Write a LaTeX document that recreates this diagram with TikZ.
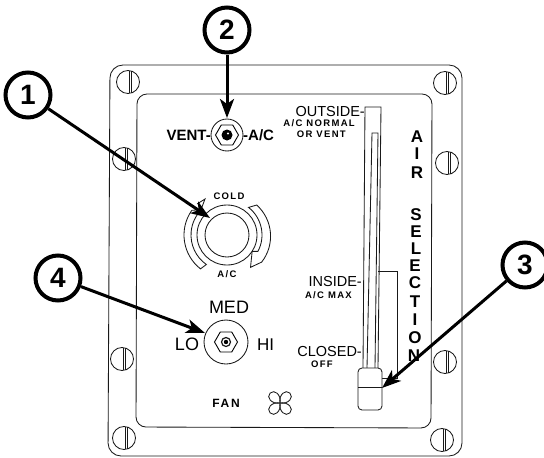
\documentclass[tikz,border=0pt]{standalone}
\usepackage{fontspec}
\setmainfont{Liberation Sans}
\usetikzlibrary{arrows.meta,shapes.geometric}
\tikzset{
 thinline/.style={line width=0.85pt,black!90},
 callout/.style={circle,draw=black,line width=4pt,minimum size=45pt,inner sep=0pt,font=\fontsize{28}{28}\selectfont\bfseries},
 leader/.style={line width=3pt,line cap=butt,-{Stealth[length=19pt,width=14pt,inset=5pt]}},
 lab/.style={inner sep=0pt,font=\fontsize{#1}{#1}\selectfont},
 blab/.style={inner sep=0pt,font=\fontsize{#1}{#1}\selectfont\bfseries},
 wlab/.style={inner sep=0pt,font=\fontsize{#1}{#1}\selectfont\bfseries\addfontfeature{LetterSpace=14}},
 airletter/.style={inner sep=0pt,font=\fontsize{17}{17}\selectfont\bfseries},
 hexnut/.style={regular polygon,regular polygon sides=6,draw,line width=0.9pt,inner sep=0pt,minimum size=#1},
}
\newcommand\myscrew[2]{%
 \draw[thinline] (#1,#2) circle (11.5);
 \draw[thinline] (#1+1,#2-11.4) -- (#1+1,#2+11.4);
 \draw[thinline] (#1+3.5,#2-11) -- (#1+3.5,#2+11);
}
\begin{document}
\begin{tikzpicture}[x=1pt,y=-1pt]
\useasboundingbox (0,0) rectangle (544,458);
% plate and panel
\draw[thinline,rounded corners=13pt] (110,65) -- (462,65) -- (462,456) -- (108,456) -- cycle;
\draw[thinline,rounded corners=10pt] (137,94) -- (432,94) -- (431,428) -- (136,427) -- cycle;
\myscrew{128}{82}\myscrew{124}{159}\myscrew{122}{359}\myscrew{124}{438}
\myscrew{445}{83}\myscrew{447}{163}\myscrew{445}{362}\myscrew{442}{440}
% vent toggle
\draw[thinline] (227,135) circle (16);
\node[hexnut=23pt] (venthex) at (227,135) {};
\fill (227,135) circle (5.5);
\fill[white] (228,133.5) circle (1.2);
\node[blab=15,anchor=east] (vent) at (211,135) {VENT-};
\node[blab=15,anchor=west] (ac) at (243,135) {-A/C};
% temperature knob
\coordinate (kn) at (227,235);
\draw[thinline] (kn) circle (22);
\draw[thinline] (kn) circle (30);
\draw[thinline] ([shift={(-145:43)}]kn) arc (-145:-232:43) -- ([shift={(-235:36)}]kn) arc (-235:-135:36);
\draw[thinline] ([shift={(-145:43)}]kn) -- ([shift={(-135:36)}]kn);
\draw[thinline] (197,204) -- (205,199) -- (202,207);
\draw[thinline] ([shift={(-52:35)}]kn) arc (-52:28:35) -- ([shift={(33:30)}]kn) -- ([shift={(54:40)}]kn) -- ([shift={(38:44)}]kn) arc (38:-48:42) -- cycle;
\node[wlab=9.5] (cold) at (229,196) {COLD};
\node[wlab=9.5] (knobac) at (227,274) {A/C};
% fan toggle
\draw[thinline] (226,342) circle (22);
\node[hexnut=23pt] (fanhex) at (226,342) {};
\draw[thinline,line width=1.2pt] (226,342) circle (4.5);
\fill (226,342) circle (2.2);
\node[lab=18] (med) at (229,307) {MED};
\node[lab=18] (lo) at (187,344) {LO};
\node[lab=17] (hi) at (265.5,345) {HI};
\node[wlab=12] (fan) at (226,403) {FAN};
% fan icon
\foreach \a in {45,135,225,315}{
 \draw[thinline,shift={(280,403)},rotate=\a] (0,0) .. controls (-7,-5) and (-6,-14) .. (0,-14) .. controls (6,-14) and (7,-5) .. (0,0);
}
% slider
\draw[thinline] (363,368) -- (365,107) -- (381,107) -- (378,368);
\draw[thinline] (367,368) -- (372,133) -- (378,133) -- (375,368);
\draw[thinline] (378,271) -- (397,271) -- (397,378) -- (382,378);
\draw[thinline,fill=white,rounded corners=4pt] (358,368) rectangle (382,410);
\draw[thinline] (358,387) -- (382,387);
% slider labels
\node[lab=14.5,anchor=east] (out) at (365,112) {OUTSIDE-};
\node[wlab=9.5,anchor=east] (norm) at (355,123) {A/C NORMAL};
\node[wlab=9.5,anchor=east] (orv) at (346,134) {OR VENT};
\node[lab=14.5,anchor=east] (ins) at (362,282) {INSIDE-};
\node[wlab=9.5,anchor=east] (acm) at (352,295) {A/C MAX};
\node[lab=14.5,anchor=east] (clo) at (362,352) {CLOSED-};
\node[wlab=9.5,anchor=east] (off) at (333,364) {OFF};
% AIR SELECTION
\foreach \t/\px/\py in {A/417/137,I/417/154,R/417/173,S/416/215,E/416/232,L/416/249,E/415/266,C/415/283,T/415/302,I/415/320,O/415/338,N/414/356}{
 \node[airletter] at (\px,\py) {\t};
}
% callouts
\node[callout] (c1) at (28,95) {1};
\node[callout] (c2) at (227,30) {2};
\node[callout] (c3) at (525,265) {3};
\node[callout] (c4) at (58,278) {4};
\coordinate (t1) at (210,218);
\coordinate (t2) at (227,118);
\coordinate (t3) at (382,388);
\coordinate (t4) at (205,333);
\draw[leader] (c1) -- (t1);
\draw[leader] (c2) -- (t2);
\draw[leader] (c3) -- (t3);
\draw[leader] (c4) -- (t4);
\end{tikzpicture}
\end{document}
